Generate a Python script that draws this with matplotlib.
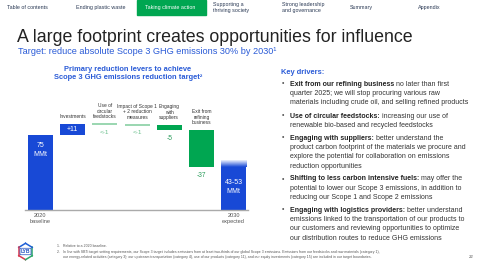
import numpy as np
import matplotlib.pyplot as plt
from matplotlib.patches import Rectangle
from matplotlib.colors import LinearSegmentedColormap

plt.rcParams['font.family'] = ['Liberation Sans', 'DejaVu Sans']

# ---------------- data ----------------
categories = ["2020\nbaseline", "Investments", "Use of\ncircular\nfeedstocks",
              "Impact of Scope 1\n+ 2 reduction\nmeasures", "Engaging\nwith\nsuppliers",
              "Exit from\nrefining\nbusiness", "2030\nexpected"]
changes = [75, 11, -0.5, -0.5, -5, -37]       # MMt, waterfall steps
expected_range = [43, 53]                      # 2030 expected, MMt
value_labels = ["75\nMMt", "+11", "<-1", "<-1", "-5", "-37", "43-53\nMMt"]

nav_items = ["Table of contents", "Ending plastic waste", "Taking climate action",
             "Supporting a\nthriving society", "Strong leadership\nand governance",
             "Summary", "Appendix"]
nav_x = [7, 76, 145, 213, 282, 350, 418]

drivers = [
    ("Exit from our refining business", " no later than first",
     ["quarter 2025; we will stop procuring various raw",
      "materials including crude oil, and selling refined products"]),
    ("Use of circular feedstocks:", " increasing our use of",
     ["renewable bio-based and recycled feedstocks"]),
    ("Engaging with suppliers:", " better understand the",
     ["product carbon footprint of the materials we procure and",
      "explore the potential for collaboration on emissions",
      "reduction opportunities"]),
    ("Shifting to less carbon intensive fuels:", " may offer the",
     ["potential to lower our Scope 3 emissions, in addition to",
      "reducing our Scope 1 and Scope 2 emissions"]),
    ("Engaging with logistics providers:", " better understand",
     ["emissions linked to the transportation of our products to",
      "our customers and reviewing opportunities to optimize",
      "our distribution routes to reduce GHG emissions"]),
]
driver_y = [84, 116, 138, 179, 210]

footnotes = [
    "1.   Relative to a 2020 baseline.",
    "2.   In line with SBTi target setting requirements, our Scope 3 target includes emissions from at least two-thirds of our global Scope 3 emissions. Emissions from our feedstocks and raw materials (category 1),",
    "      our energy-related activities (category 3); our upstream transportation (category 4), use of our products (category 11), and our equity investments (category 15) are included in our target boundaries.",
]

# ---------------- colours ----------------
BLUE = "#1849d6"
GREEN = "#00a651"
LIGHT_GREEN = "#9ad6b0"
TITLE_BLUE = "#2a5bd7"
TEXT = "#333333"
GREY = "#555555"

W, H = 480, 270
fig = plt.figure(figsize=(4.8, 2.7), dpi=100)
fig.patch.set_facecolor("white")


def fx(px):
    return px / W


def fy(py):
    return 1 - py / H


# ---------------- nav bar ----------------
fig.patches.append(Rectangle((fx(137), fy(15)), fx(69), 15 / H, transform=fig.transFigure,
                             color=GREEN, zorder=0))
for label, x in zip(nav_items, nav_x):
    col = "white" if label == "Taking climate action" else "#2b3a55"
    fig.text(fx(x), fy(7.5), label, fontsize=3.9, color=col, va="center", ha="left",
             linespacing=1.1)

# ---------------- titles ----------------
fig.text(fx(17), fy(38), "A large footprint creates opportunities for influence",
         fontsize=12.8, color="#222222", va="center")
fig.text(fx(18), fy(51), "Target: reduce absolute Scope 3 GHG emissions 30% by 2030\u00b9",
         fontsize=6.6, color=TITLE_BLUE, va="center")
fig.text(fx(128), fy(73.5), "Primary reduction levers to achieve\nScope 3 GHG emissions reduction target\u00b2",
         fontsize=5.4, color=TITLE_BLUE, weight="bold", ha="center", va="center", linespacing=1.35)

# ---------------- waterfall ----------------
ax = fig.add_axes([fx(25), fy(210), fx(223), 100 / H])
ax.set_xlim(-0.48, 6.445)
ax.set_ylim(0, 100)
ax.axis("off")
ax.axhline(0, color="#aaaaaa", lw=1.0, clip_on=False)

bw = 0.78
levels = np.cumsum(changes)
starts = np.concatenate([[0], levels[:-1]])
for i, (s, d) in enumerate(zip(starts, changes)):
    if i == 0 or d > 0:
        col = BLUE
    elif abs(d) < 1:
        col = LIGHT_GREEN
    else:
        col = GREEN
    bottom = s if d > 0 else s + d
    if i == 0:
        bottom = 0
    if abs(d) < 1:
        ax.plot([i - bw / 2, i + bw / 2], [s, s], color=col, lw=1.4, solid_capstyle="butt")
    else:
        ax.bar(i, abs(d), bottom=bottom, width=bw, color=col, lw=0)

# 2030 expected bar with fading top for the range
n = len(changes)
ax.bar(n, expected_range[0], width=bw, color=BLUE, lw=0)
cmap = LinearSegmentedColormap.from_list("fade", [BLUE, "#eef2fd"])
grad = np.linspace(0, 1, 64).reshape(-1, 1)
ax.imshow(grad, extent=(n - bw / 2, n + bw / 2, expected_range[0], expected_range[1] - 3),
          origin="lower", cmap=cmap, aspect="auto", zorder=2)
ax.set_xlim(-0.48, 6.445)
ax.set_ylim(0, 100)

# value labels
ax.text(0, 60, value_labels[0], color="white", fontsize=5, ha="center", va="center", linespacing=1.3)
ax.text(1, starts[1] + changes[1] / 2, value_labels[1], color="white", fontsize=5,
        ha="center", va="center")
for i in [2, 3]:
    ax.text(i, starts[i] - 8, value_labels[i], color="#6cc08e", fontsize=4.6, ha="center", va="center")
for i in [4, 5]:
    ax.text(i, levels[i] - 8.5, value_labels[i], color="#2e9e5e", fontsize=4.8, ha="center", va="center")
ax.text(n, 23, value_labels[n], color="white", fontsize=5, ha="center", va="center", linespacing=1.3)

# category labels
for i in range(1, n):
    top = max(starts[i], levels[i])
    ax.text(i, top + 4.5, categories[i], fontsize=3.55, color=TEXT, ha="center", va="bottom",
            linespacing=1.15, clip_on=False)
for i in [0, n]:
    ax.text(i, -3, categories[i], fontsize=4.1, color=GREY, ha="center", va="top",
            linespacing=1.15, clip_on=False)

# ---------------- key drivers ----------------
fig.text(fx(281), fy(73), "Key drivers:", fontsize=5.4, color=TITLE_BLUE, weight="bold", va="center")
renderer = fig.canvas.get_renderer()
LS = 9.4
for (bold, rest, lines), y0 in zip(drivers, driver_y):
    fig.text(fx(282), fy(y0), "\u2022", fontsize=5, color=GREY, va="center")
    t = fig.text(fx(290), fy(y0), bold, fontsize=5.05, color="#222222", weight="bold", va="center")
    bb = t.get_window_extent(renderer)
    fig.text(bb.x1 / W, fy(y0), rest, fontsize=5.05, color=TEXT, va="center")
    for k, line in enumerate(lines):
        fig.text(fx(290), fy(y0 + LS * (k + 1)), line, fontsize=5.05, color=TEXT, va="center")

# ---------------- footer ----------------
for txt, y in zip(footnotes, [246, 251.5, 257]):
    fig.text(fx(57), fy(y), txt, fontsize=2.55, color=GREY, va="center")
fig.text(fx(469), fy(257), "22", fontsize=3.2, color=GREY, va="center")

# LYB logo
cx, cy, r = 25.5, 251.5, 8.2
ang = np.deg2rad(np.arange(90, 450, 60))
pts = [(fx(cx + r * np.cos(a) * 0.95), fy(cy - r * np.sin(a))) for a in ang]
seg_cols = ["#1f5fd6", "#d9394f", "#d9394f", "#2ea86a", "#2ea86a", "#1f5fd6"]
for k in range(6):
    p0, p1 = pts[k], pts[(k + 1) % 6]
    fig.lines.append(plt.Line2D([p0[0], p1[0]], [p0[1], p1[1]], transform=fig.transFigure,
                                color=seg_cols[k], lw=1.1))
fig.text(fx(cx), fy(cy), "LYB", fontsize=3.6, color="#1f4fbf", weight="bold", ha="center",
         va="center", bbox=dict(boxstyle="round,pad=0.15", fc="white", ec="#1f4fbf", lw=0.5))

fig.savefig("out.png", dpi=100)
